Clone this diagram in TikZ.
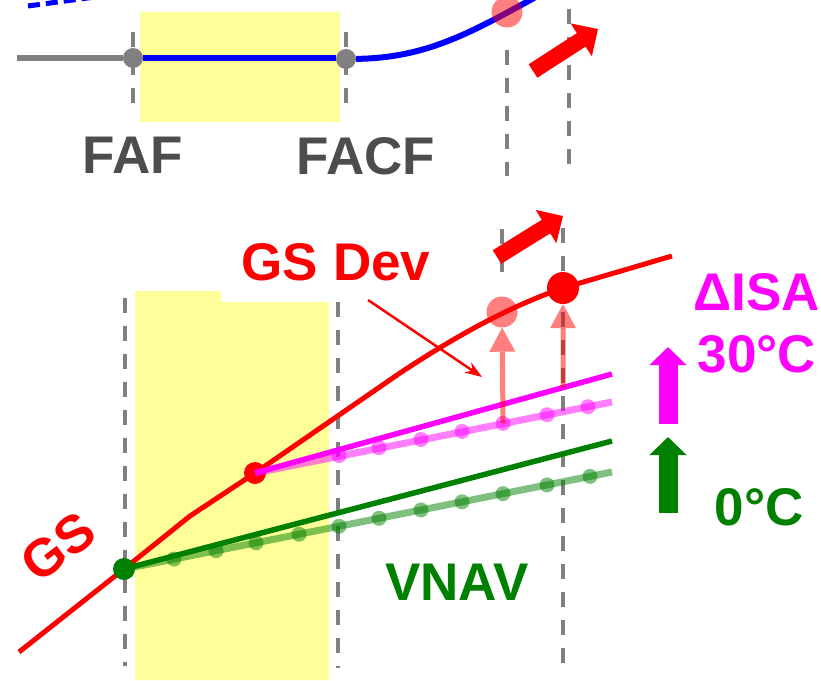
\documentclass[tikz,border=0pt]{standalone}
\usepackage{fontspec}
\setmainfont{Liberation Sans}
\usetikzlibrary{arrows.meta,positioning,calc}
\definecolor{zonefill}{RGB}{255,255,153}
\definecolor{isapink}{RGB}{255,0,255}
\definecolor{vnavgreen}{RGB}{0,128,0}
\definecolor{gsred}{RGB}{255,0,0}
\definecolor{pathblue}{RGB}{0,0,255}
\definecolor{guidegray}{RGB}{128,128,128}
\definecolor{labelgray}{RGB}{77,77,77}

\begin{document}
\begin{tikzpicture}[x=1pt, y=-1pt, node distance=10pt,
    zone/.style={fill=zonefill},
    guide/.style={draw=guidegray, line width=4pt, dash pattern=on 15pt off 13pt},
    spot/.style={circle, inner sep=0pt, minimum size=#1},
    lbl/.style={inner sep=0pt, font=\fontsize{53}{62}\selectfont\bfseries},
    gs/.style={gsred, line width=5pt},
    isa/.style={isapink, line width=5.5pt},
    isafit/.style={isapink, line width=7pt, opacity=0.5},
    vnav/.style={vnavgreen, line width=5.5pt},
    vnavfit/.style={vnavgreen, line width=7pt, opacity=0.5},
    lift/.style={gsred, opacity=0.5, line width=5pt, -{Triangle[length=24pt, width=26pt, line width=0pt]}},
    push/.style={gsred, line width=16pt, -{Triangle[length=20pt, width=38pt]}},
    rise/.style={line width=19pt, -{Triangle[length=18pt, width=36pt]}}]
    \useasboundingbox (0,0) rectangle (821,680);
    \clip (0,0) rectangle (821,680);

    % lateral view
    \fill[zone] (140,12) rectangle (340,122);
    \draw[guide] (133,32) -- (133,104);
    \draw[guide] (346,32) -- (346,104);
    \draw[guide] (507,50) -- (507,176);
    \draw[guide] (569,9) -- (569,166);
    \node[spot=20pt, fill=guidegray] (faf) at (133,58) {};
    \node[spot=20pt, fill=guidegray] (facf) at (346,59) {};
    \coordinate (west) at (17,58);
    \draw[guidegray, line width=6pt] (west) -- (faf);
    \draw[pathblue, line width=6pt] (faf) -- (faf -| facf.west);
    \draw[pathblue, line width=6pt] (facf) .. controls (430,58) and (475,30) .. (545,-8);
    \draw[pathblue, line width=5pt, dash pattern=on 12pt off 6pt] (28,6) -- (95,-3);
    \node[spot=31pt, fill=gsred, opacity=0.5] (gate) at (507,12) {};
    \coordinate (pushtop) at (533,71);
    \coordinate (pushtoptip) at (598,29);
    \draw[push] (pushtop) -- (pushtoptip);
    \node[lbl, text=labelgray, below=69pt of faf] (faflbl) {FAF};
    \node[lbl, text=labelgray, below=68pt of facf, xshift=20pt] (facflbl) {FACF};

    % ground speed view
    \fill[zone] (135,291) -- (221,291) -- (221,302) -- (329,302) -- (329,680) -- (135,680) -- cycle;
    \draw[guide] (125,298) -- (125,666);
    \draw[guide] (338,302) -- (338,668);
    \draw[guide] (563,228) -- (563,666);
    \draw[guide] (502,229) -- (502,272);
    \coordinate (gsstart) at (19,652);
    \draw[gs] (gsstart) -- (124,569) -- (190,516) -- (255,473) -- (400,373)
        .. controls (450,340) and (505,308) .. (563,288) -- (672,256);
    \node[spot=22pt, fill=vnavgreen] (vref) at (124,569) {};
    \node[spot=22pt, fill=gsred] (gref) at (255,473) {};
    \node[spot=31pt, fill=gsred, opacity=0.5] (gdev) at (502,312) {};
    \node[spot=32pt, fill=gsred] (gnow) at (563,288) {};

    \draw[vnavfit] (vref.center) -- (612,472);
    \foreach \x [count=\i] in {174,216,256,299,339,379,421,462,503,547,590}
      \node[spot=15pt, fill=vnavgreen, opacity=0.5] (v\i) at (\x, {569-(\x-124)*0.19877}) {};
    \draw[vnav] (vref.center) -- (612,441);
    \draw[isafit] (gref.center) -- (612,402);
    \foreach \x [count=\i] in {339,379,421,462,503,547,588}
      \node[spot=15pt, fill=isapink, opacity=0.5] (i\i) at (\x, {472-(\x-255)*0.19608}) {};
    \draw[isa] (gref.center) -- coordinate[pos=0.863] (ihit) (612,374);

    \draw[lift] (i5.center) -- (gdev);
    \draw[lift] (ihit) -- (gnow);
    \coordinate (devtail) at (368,300);
    \coordinate (devtip) at (482,377);
    \draw[gsred, line width=2.5pt, -{Stealth[length=17pt, width=12pt]}] (devtail) -- (devtip);
    \coordinate (pushlow) at (497,257);
    \coordinate (pushlowtip) at (563,216);
    \draw[push] (pushlow) -- (pushlowtip);
    \coordinate (risehot) at (668,424);
    \coordinate (risehottip) at (668,347);
    \draw[rise, isapink] (risehot) -- (risehottip);
    \coordinate (risecold) at (668,513);
    \coordinate (risecoldtip) at (668,437);
    \draw[rise, vnavgreen] (risecold) -- (risecoldtip);

    \node[lbl, text=gsred] (devlbl) at (336,262) {GS Dev};
    \node[lbl, text=gsred, rotate=37] (gslbl) at (58,547) {GS};
    \node[lbl, text=isapink, align=center] (isalbl) at (757,323) {ΔISA\\30°C};
    \node[lbl, text=vnavgreen] (coldlbl) at (759,507) {0°C};
    \node[lbl, text=vnavgreen] (vnavlbl) at (457,582) {VNAV};
  \end{tikzpicture}
\end{document}
